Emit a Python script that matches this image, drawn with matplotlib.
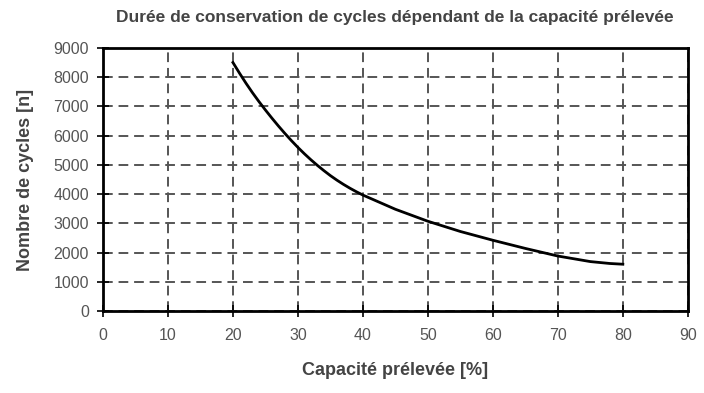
import numpy as np
import matplotlib.pyplot as plt

# Valeurs
capacite = [20, 21, 22, 23, 24, 25, 26, 27, 28, 29, 30, 31, 32, 33, 34, 35, 36, 37, 38, 39, 40,
            45, 50, 55, 60, 65, 70, 75, 78, 80]
cycles = [8500, 8140, 7795, 7470, 7165, 6875, 6597, 6329, 6073, 5828, 5596, 5378, 5173, 4981,
          4801, 4631, 4476, 4333, 4201, 4079, 3966,
          3480, 3070, 2720, 2420, 2140, 1880, 1690, 1625, 1600]

x_ticks = list(range(0, 100, 10))
y_ticks = list(range(0, 10000, 1000))

titre = "Durée de conservation de cycles dépendant de la capacité prélevée"
label_x = "Capacité prélevée [%]"
label_y = "Nombre de cycles [n]"

plt.rcParams['font.family'] = ['Liberation Sans', 'DejaVu Sans']

fig = plt.figure(figsize=(7.04, 3.93), dpi=100)
ax = fig.add_axes([0.1463, 0.2087, 0.8307, 0.6693])

ax.plot(capacite, cycles, color='black', lw=2)

ax.set_xlim(0, 90)
ax.set_ylim(0, 9000)
ax.set_xticks(x_ticks)
ax.set_yticks(y_ticks)
ax.grid(True, color='#555555', ls=(0, (5, 3)), lw=1.4)
ax.set_axisbelow(True)

for s in ax.spines.values():
    s.set_linewidth(2)
    s.set_color('black')
ax.tick_params(direction='inout', length=8, width=1.2, colors='black',
               labelcolor='#555555', labelsize=11.5)
ax.tick_params(axis='x', pad=8)
ax.tick_params(axis='y', pad=6)

fig.text(0.561, 0.955, titre, ha='center', va='center', fontsize=12.5,
         fontweight='bold', color='#444444')
ax.set_xlabel(label_x, fontsize=13, fontweight='bold', color='#444444', labelpad=14)
ax.set_ylabel(label_y, fontsize=13, fontweight='bold', color='#444444', labelpad=14)

fig.savefig('out.png', dpi=100)
